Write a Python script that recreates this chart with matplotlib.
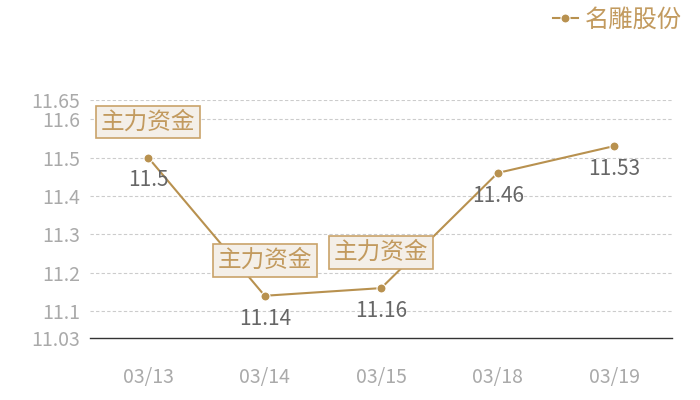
import matplotlib
matplotlib.use("Agg")
from matplotlib import pyplot as plt
import numpy as np

plt.rcParams['font.family'] = ['Noto Sans CJK SC', 'DejaVu Sans']

dates = ["03/13", "03/14", "03/15", "03/18", "03/19"]
prices = [11.5, 11.14, 11.16, 11.46, 11.53]
price_labels = ["11.5", "11.14", "11.16", "11.46", "11.53"]
flagged = [0, 1, 2]  # points carrying a 主力资金 tag
flag_text = "主力资金"
series_name = "名雕股份"
yticks = [11.03, 11.1, 11.2, 11.3, 11.4, 11.5, 11.6, 11.65]
ytick_labels = ["11.03", "11.1", "11.2", "11.3", "11.4", "11.5", "11.6", "11.65"]

gold = "#b8914f"

fig = plt.figure(figsize=(7, 4), dpi=100)
ax = fig.add_axes([0.1286, 0.155, 0.832, 0.595])

x = np.arange(len(dates))
ax.plot(x, prices, color=gold, lw=1.5, marker='o', ms=6.5,
        mec='white', mew=0.8, label=series_name, zorder=3)

for i, (p, s) in enumerate(zip(prices, price_labels)):
    ax.annotate(s, (i, p), xytext=(0, -16.5), textcoords='offset points',
                ha='center', va='center', fontsize=15, color='#666666', zorder=4)

for i in flagged:
    ax.annotate(flag_text, (i, prices[i]), xytext=(0, 25.5), textcoords='offset points',
                ha='center', va='center', fontsize=17, color='#c29a5e', zorder=5,
                bbox=dict(boxstyle='square,pad=0.2', fc='#f4efe8', ec='#c9a36a', lw=1.2))

ax.set_xlim(-0.5, len(dates) - 0.5)
ax.set_ylim(11.03, 11.65)
ax.set_xticks(x)
ax.set_xticklabels(dates, fontsize=14, color='#aaaaaa')
ax.set_yticks(yticks)
ax.set_yticklabels(ytick_labels, fontsize=14, color='#aaaaaa')
ax.tick_params(axis='both', length=0)
ax.tick_params(axis='x', pad=21)
ax.tick_params(axis='y', pad=7)

for yv in yticks[1:]:
    ax.axhline(yv, color='#cccccc', lw=0.8, ls=(0, (3, 2)), zorder=1)

for side in ['top', 'right', 'left']:
    ax.spines[side].set_visible(False)
ax.spines['bottom'].set_color('#333333')
ax.spines['bottom'].set_linewidth(1.0)

leg = fig.legend(loc='upper right', bbox_to_anchor=(0.995, 1.02), frameon=False,
                 fontsize=17.5, handlelength=1.0, handletextpad=0.3, borderaxespad=0.2)
for t in leg.get_texts():
    t.set_color('#c29a5e')

fig.savefig("out.png", dpi=100)
